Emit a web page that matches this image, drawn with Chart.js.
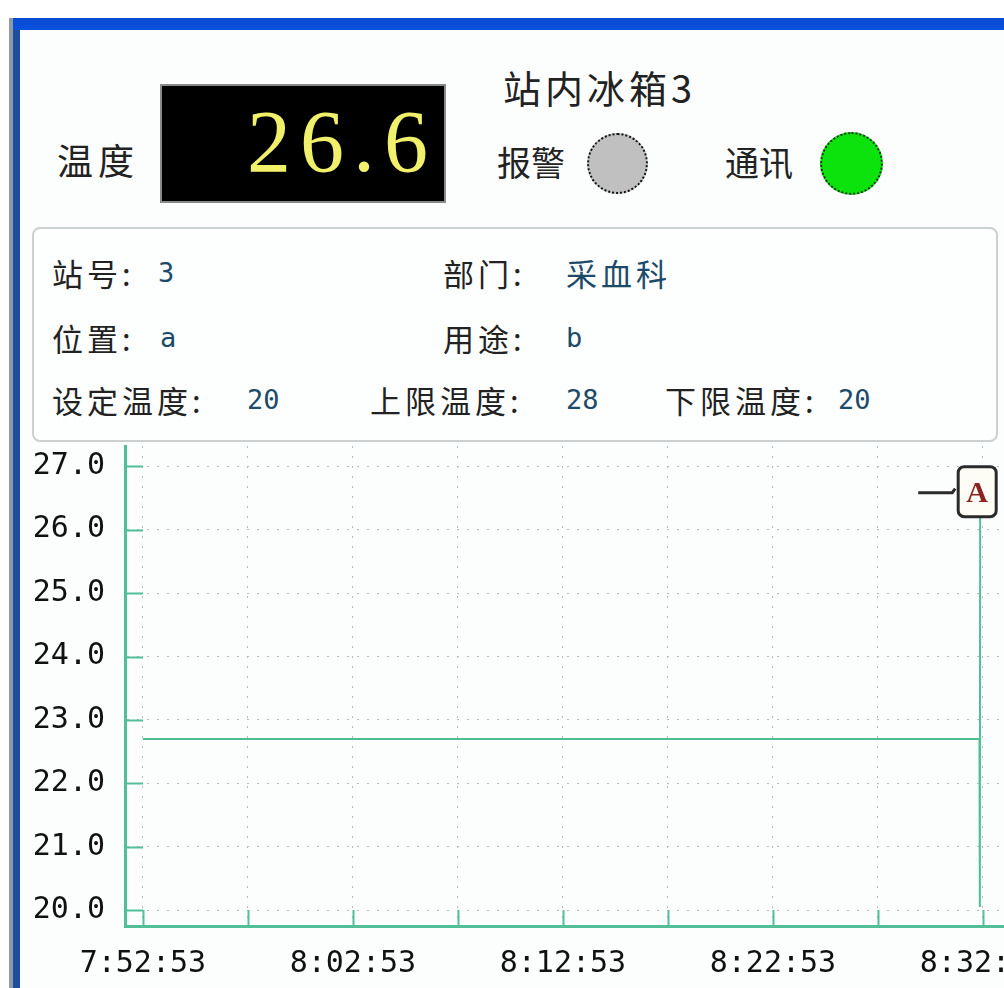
<!DOCTYPE html>
<html>
<head>
<meta charset="utf-8">
<script src="https://cdn.jsdelivr.net/npm/chart.js@4"></script>
<style>
  html, body { margin: 0; padding: 0; width: 1004px; height: 988px; overflow: hidden; background: #fff; }
  .abs { position: absolute; }
  .cjk { font-family: "Noto Sans CJK SC", sans-serif; color: #222; white-space: nowrap; }
  .mono { font-family: "DejaVu Sans Mono", monospace; white-space: nowrap; }
  .val { color: #1c4a68; }
</style>
</head>
<body>
<!-- window frame -->
<div class="abs" style="left:9px;top:18px;width:4px;height:970px;background:#8f9aa8;"></div>
<div class="abs" style="left:13px;top:18px;width:7px;height:970px;background:#1d4f9e;"></div>
<div class="abs" style="left:13px;top:18px;width:991px;height:12px;background:linear-gradient(#0b4ad2,#0a52de);"></div>
<div class="abs" style="left:20px;top:30px;width:984px;height:958px;background:#fcfefe;"></div>

<!-- header -->
<div class="abs cjk" style="left:57px;top:141px;font-size:36px;line-height:36px;letter-spacing:5px;">温度</div>
<div class="abs" style="left:160px;top:84px;width:286px;height:119px;background:#000;border:2px solid #8a8a8a;box-sizing:border-box;"></div>
<div class="abs" id="bigValue" style="left:160px;top:98px;width:277px;text-align:right;font-family:'Liberation Serif',serif;font-size:88px;line-height:88px;color:#f0f06a;letter-spacing:9px;"></div>
<div class="abs cjk" id="stationTitle" style="left:503px;top:68px;font-size:38px;line-height:38px;letter-spacing:4px;"></div>
<div class="abs cjk" style="left:497px;top:145px;font-size:34px;line-height:34px;">报警</div>
<div class="abs" style="left:587px;top:133px;width:61px;height:61px;border-radius:50%;background:#c0c0c0;border:2px dotted #111;box-sizing:border-box;"></div>
<div class="abs cjk" style="left:725px;top:145px;font-size:34px;line-height:34px;">通讯</div>
<div class="abs" style="left:820px;top:132px;width:63px;height:63px;border-radius:50%;background:#0ce20c;border:2px dotted #113311;box-sizing:border-box;"></div>

<!-- info box -->
<div class="abs" style="left:32px;top:227px;width:966px;height:215px;border:2px solid #cdd0d0;border-radius:8px;background:#fdfefe;box-sizing:border-box;"></div>
<div class="abs cjk" style="left:52px;top:257px;font-size:31px;line-height:31px;letter-spacing:4px;">站号:</div>
<div class="abs mono val" style="left:158px;top:259px;font-size:27px;line-height:27px;">3</div>
<div class="abs cjk" style="left:443px;top:257px;font-size:31px;line-height:31px;letter-spacing:4px;">部门:</div>
<div class="abs cjk val" style="left:566px;top:257px;font-size:31px;line-height:31px;letter-spacing:4px;">采血科</div>

<div class="abs cjk" style="left:52px;top:322px;font-size:31px;line-height:31px;letter-spacing:4px;">位置:</div>
<div class="abs mono val" style="left:160px;top:324px;font-size:27px;line-height:27px;">a</div>
<div class="abs cjk" style="left:443px;top:322px;font-size:31px;line-height:31px;letter-spacing:4px;">用途:</div>
<div class="abs mono val" style="left:566px;top:324px;font-size:27px;line-height:27px;">b</div>

<div class="abs cjk" style="left:52px;top:384px;font-size:31px;line-height:31px;letter-spacing:4px;">设定温度:</div>
<div class="abs mono val" style="left:247px;top:386px;font-size:27px;line-height:27px;">20</div>
<div class="abs cjk" style="left:370px;top:384px;font-size:31px;line-height:31px;letter-spacing:4px;">上限温度:</div>
<div class="abs mono val" style="left:566px;top:386px;font-size:27px;line-height:27px;">28</div>
<div class="abs cjk" style="left:665px;top:384px;font-size:31px;line-height:31px;letter-spacing:4px;">下限温度:</div>
<div class="abs mono val" style="left:838px;top:386px;font-size:27px;line-height:27px;">20</div>

<!-- chart -->
<div class="abs" style="left:0;top:408px;width:1100px;height:580px;">
  <canvas id="tempChart"></canvas>
</div>

<script>
const stationName = "站内冰箱3";
const currentTemp = 26.6;

// sample times and temperatures
const timeLabels = ["7:52:53", "7:57:53", "8:02:53", "8:07:53", "8:12:53", "8:17:53",
  "8:22:53", "8:27:53", "8:32:43", "8:32:44", "8:32:45"];
const tempValues = [22.7, 22.7, 22.7, 22.7, 22.7, 22.7, 22.7, 22.7, 22.7, 20.05, 26.6];

// axes
const yTickValues = [20, 21, 22, 23, 24, 25, 26, 27];
const xTickTimes = ["7:52:53", "7:57:53", "8:02:53", "8:07:53", "8:12:53", "8:17:53",
  "8:22:53", "8:27:53", "8:32:53"];
const xTickLabels = ["7:52:53", "", "8:02:53", "", "8:12:53", "", "8:22:53", "", "8:32:53"];
const xStart = "7:52:02";
const xEnd = "8:34:53";
const yMin = 19.75;
const yMax = 27.32;

document.getElementById("bigValue").textContent = currentTemp.toFixed(1);
document.getElementById("stationTitle").textContent = stationName;

function toSec(t) {
  var p = t.split(":").map(Number);
  return p[0] * 3600 + p[1] * 60 + p[2];
}
const t0 = toSec(timeLabels[0]);
const points = timeLabels.map((t, i) => ({ x: toSec(t) - t0, y: tempValues[i] }));

const axisColor = "#52bf98";

// small tick marks drawn inward from the axes
const innerTicks = {
  id: "innerTicks",
  afterDraw(chart) {
    const ctx = chart.ctx;
    const area = chart.chartArea;
    ctx.save();
    ctx.strokeStyle = axisColor;
    ctx.lineWidth = 2;
    chart.scales.y.ticks.forEach((tk) => {
      const y = Math.round(chart.scales.y.getPixelForValue(tk.value)) + 0.5;
      ctx.beginPath();
      ctx.moveTo(area.left, y);
      ctx.lineTo(area.left + 18, y);
      ctx.stroke();
    });
    chart.scales.x.ticks.forEach((tk) => {
      const x = Math.round(chart.scales.x.getPixelForValue(tk.value)) + 0.5;
      ctx.beginPath();
      ctx.moveTo(x, area.bottom);
      ctx.lineTo(x, area.bottom - 16);
      ctx.stroke();
    });
    ctx.restore();
  },
};

// "A" marker on the latest reading
const lastMarker = {
  id: "lastMarker",
  afterDatasetsDraw(chart) {
    const meta = chart.getDatasetMeta(0);
    const pt = meta.data[meta.data.length - 1];
    const ctx = chart.ctx;
    const x = pt.x, y = pt.y;
    ctx.save();
    ctx.strokeStyle = "#2a2a2a";
    ctx.lineWidth = 3;
    ctx.beginPath();
    ctx.moveTo(x - 62, y + 1);
    ctx.lineTo(x - 28, y + 1);
    ctx.lineTo(x - 25, y - 3);
    ctx.stroke();
    ctx.beginPath();
    ctx.roundRect(x - 22, y - 25, 38, 50, 6);
    ctx.fillStyle = "#fdfdf6";
    ctx.fill();
    ctx.stroke();
    ctx.fillStyle = "#8b2420";
    ctx.font = "bold 30px 'Liberation Serif', serif";
    ctx.textAlign = "center";
    ctx.textBaseline = "middle";
    ctx.fillText("A", x - 3, y + 3);
    ctx.restore();
  },
};

new Chart(document.getElementById("tempChart"), {
  type: "line",
  data: {
    datasets: [
      {
        label: "A",
        data: points,
        borderColor: "#4cbf93",
        borderWidth: 2,
        pointRadius: 0,
        tension: 0,
        fill: false,
      },
    ],
  },
  options: {
    responsive: true,
    maintainAspectRatio: false,
    animation: false,
    layout: { padding: { top: 6, right: 75, left: 0, bottom: 0 } },
    plugins: {
      legend: { display: false },
      tooltip: { enabled: false },
    },
    scales: {
      x: {
        type: "linear",
        min: toSec(xStart) - t0,
        max: toSec(xEnd) - t0,
        afterBuildTicks: (scale) => {
          scale.ticks = xTickTimes.map((t) => ({ value: toSec(t) - t0 }));
        },
        afterFit: (scale) => {
          scale.height = 62;
        },
        ticks: {
          autoSkip: false,
          maxRotation: 0,
          padding: 20,
          color: "#111",
          font: { family: "DejaVu Sans Mono", size: 30 },
          callback: (v, i) => xTickLabels[i],
        },
        grid: { color: "#b4bcbc", lineWidth: 1, drawTicks: false },
        border: { color: axisColor, width: 3, dash: [2, 8] },
      },
      y: {
        min: yMin,
        max: yMax,
        afterBuildTicks: (scale) => {
          scale.ticks = yTickValues.map((v) => ({ value: v }));
        },
        afterFit: (scale) => {
          scale.width = 125;
        },
        ticks: {
          padding: 20,
          color: "#111",
          font: { family: "DejaVu Sans Mono", size: 30 },
          callback: (v) => Number(v).toFixed(1),
        },
        grid: { color: "#b4bcbc", lineWidth: 1, drawTicks: false },
        border: { color: axisColor, width: 3, dash: [2, 8] },
      },
    },
  },
  plugins: [innerTicks, lastMarker],
});
</script>
</body>
</html>
